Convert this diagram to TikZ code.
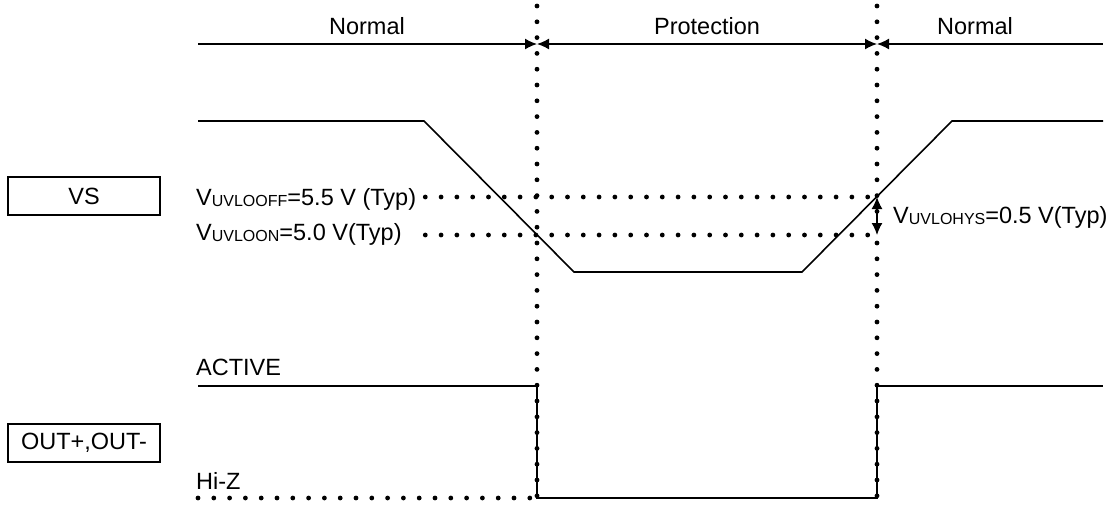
\documentclass[tikz,border=0pt]{standalone}
\usepackage{fontspec}
\setmainfont{Liberation Sans}
\usetikzlibrary{arrows.meta,positioning}
\newcommand{\vsubs}[1]{\raisebox{-1.5pt}{\fontsize{16}{16}\selectfont #1}}

\begin{document}
\begin{tikzpicture}[x=1pt, y=-1pt,
  wave/.style={line width=1.6pt},
  dots/.style={line width=4.8pt, line cap=round, dash pattern=on 0pt off 15.8pt},
  span/.style={line width=1.4pt},
  lbl/.style={font=\fontsize{23.5}{27}\selectfont, inner sep=0pt},
  sig/.style={draw, line width=1.4pt, minimum width=152pt,
              minimum height=38pt, font=\fontsize{23.5}{27}\selectfont}
]
  \useasboundingbox (0,0) rectangle (1117,504);
  \coordinate (cutL) at (537,44);
  \coordinate (cutR) at (877,44);
  \coordinate (hysT) at (877,197);
  \coordinate (hysB) at (877,235);

  \draw[dots] (537,6) -- (537,498);
  \draw[dots] (877,6) -- (877,498);

  \node[lbl, anchor=base] (nrmA) at (367,34) {Normal};
  \node[lbl, anchor=base] (prot) at (707,34) {Protection};
  \node[lbl, anchor=base] (nrmB) at (975,34) {Normal};
  \draw[span, -{Latex[length=12pt, width=11pt]}] (198,44) -- (cutL);
  \draw[span, {Latex[length=12pt, width=11pt]}-{Latex[length=12pt, width=11pt]}]
    (cutL) -- (cutR);
  \draw[span, {Latex[length=12pt, width=11pt]}-] (cutR) -- (1103,44);

  \node[sig] (vs) at (84,196) {VS};
  \draw[wave] (198,121) -- (424,121) -- (574,272) -- (802,272)
    -- (952,121) -- (1103,121);
  \node[lbl, anchor=base west] (voff) at (196,205)
    {V\vsubs{UVLOOFF}=5.5 V (Typ)};
  \node[lbl, anchor=base west] (von) at (196,240)
    {V\vsubs{UVLOON}=5.0 V(Typ)};
  \draw[dots] ([xshift=9pt]voff.east |- hysT) -- (hysT);
  \draw[dots] ([xshift=9pt]voff.east |- hysB) -- (hysB);
  \draw[span, {Latex[length=12pt, width=11pt]}-{Latex[length=12pt, width=11pt]}]
    (hysT) -- (hysB);
  \node[lbl, anchor=base west] (vhys) at (893,223)
    {V\vsubs{UVLOHYS}=0.5 V(Typ)};

  \node[sig] (out) at (84,443) {OUT+,OUT-};
  \node[lbl, anchor=base west] (act) at (196,375) {ACTIVE};
  \node[lbl, anchor=base west] (hiz) at (196,489) {Hi-Z};
  \draw[wave] (198,386) -- (537,386) -- (537,498) -- (877,498)
    -- (877,386) -- (1103,386);
  \draw[dots] (198,498) -- (537,498);
\end{tikzpicture}
\end{document}
